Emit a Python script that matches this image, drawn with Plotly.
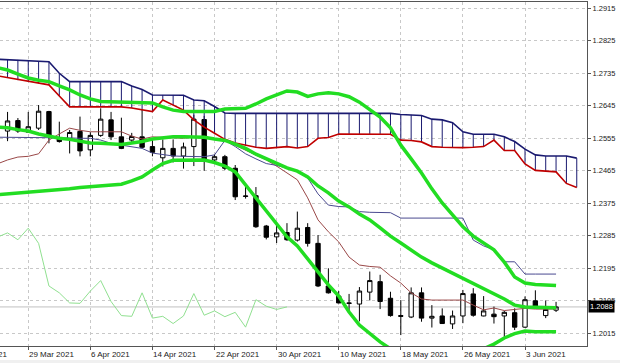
import numpy as np
import pandas as pd
import plotly.graph_objects as go

# ---------------- data ----------------
dates = pd.bdate_range("2021-03-25", "2021-06-08")

open_ = [1.2575, 1.2604, 1.2572, 1.2583, 1.2629, 1.2557, 1.2553, 1.2574, 1.2523, 1.2563,
         1.2606, 1.2559, 1.2550, 1.2559, 1.2532, 1.2501, 1.2527, 1.2506, 1.2532, 1.2607,
         1.2495, 1.2504, 1.2472, 1.2394, 1.2396, 1.2312, 1.2282, 1.2294, 1.2273, 1.2308,
         1.2264, 1.2146, 1.2118, 1.2099, 1.2096, 1.2129, 1.2158, 1.2112, 1.2064, 1.2060,
         1.2127, 1.2057, 1.2063, 1.2041, 1.2063, 1.2124, 1.2063, 1.2068, 1.2063, 1.2072,
         1.2032, 1.2105, 1.2064, 1.2079]
high = [1.2628, 1.2611, 1.2628, 1.2647, 1.2631, 1.2601, 1.2578, 1.2615, 1.2572, 1.2638,
        1.2628, 1.2612, 1.2570, 1.2634, 1.2550, 1.2552, 1.2552, 1.2543, 1.2620, 1.2617,
        1.2510, 1.2509, 1.2481, 1.2420, 1.2420, 1.2315, 1.2321, 1.2320, 1.2352, 1.2320,
        1.2287, 1.2195, 1.2132, 1.2124, 1.2143, 1.2186, 1.2177, 1.2130, 1.2107, 1.2142,
        1.2142, 1.2093, 1.2084, 1.2078, 1.2135, 1.2140, 1.2118, 1.2089, 1.2077, 1.2084,
        1.2117, 1.2134, 1.2106, 1.2102]
low = [1.2547, 1.2570, 1.2571, 1.2578, 1.2541, 1.2543, 1.2513, 1.2505, 1.2505, 1.2559,
       1.2550, 1.2525, 1.2542, 1.2527, 1.2505, 1.2477, 1.2488, 1.2471, 1.2478, 1.2465,
       1.2488, 1.2467, 1.2384, 1.2388, 1.2307, 1.2275, 1.2265, 1.2271, 1.2269, 1.2255,
       1.2143, 1.2125, 1.2098, 1.2071, 1.2048, 1.2106, 1.2082, 1.2061, 1.2010, 1.2057,
       1.2047, 1.2031, 1.2041, 1.2027, 1.2043, 1.2061, 1.2062, 1.2042, 1.2005, 1.2024,
       1.2030, 1.2084, 1.2057, 1.2074]
close = [1.2603, 1.2575, 1.2587, 1.2630, 1.2564, 1.2546, 1.2571, 1.2520, 1.2563, 1.2608,
         1.2559, 1.2527, 1.2560, 1.2530, 1.2516, 1.2527, 1.2506, 1.2531, 1.2608, 1.2492,
         1.2504, 1.2472, 1.2393, 1.2395, 1.2310, 1.2281, 1.2293, 1.2274, 1.2306, 1.2264,
         1.2146, 1.2127, 1.2099, 1.2098, 1.2132, 1.2161, 1.2103, 1.2064, 1.2062, 1.2127,
         1.2057, 1.2062, 1.2042, 1.2063, 1.2125, 1.2065, 1.2077, 1.2061, 1.2073, 1.2032,
         1.2108, 1.2090, 1.2081, 1.2088]

# indicator values, first value belongs to the bar before 25 Mar (off-screen)
bb_upper = [1.2751, 1.2744, 1.2733, 1.2722, 1.2716, 1.2712, 1.2700, 1.2689, 1.2675, 1.2664,
            1.2657, 1.2656, 1.2656, 1.2656, 1.2655, 1.2653, 1.2642, 1.2633, 1.2629, 1.2629,
            1.2629, 1.2629, 1.2636, 1.2638, 1.2638, 1.2650, 1.2664, 1.2675, 1.2686, 1.2683,
            1.2671, 1.2678, 1.2681, 1.2678, 1.2670, 1.2655, 1.2633, 1.2614, 1.2584, 1.2536,
            1.2498, 1.2459, 1.2415, 1.2376, 1.2343, 1.2310, 1.2284, 1.2265, 1.2246, 1.2212,
            1.2171, 1.2154, 1.2150, 1.2149, 1.2147]
bb_middle = [1.2586, 1.2584, 1.2579, 1.2575, 1.2567, 1.2560, 1.2555, 1.2552, 1.2546, 1.2542,
             1.2541, 1.2539, 1.2538, 1.2542, 1.2546, 1.2553, 1.2557, 1.2559, 1.2559, 1.2559,
             1.2558, 1.2553, 1.2549, 1.2539, 1.2527, 1.2511, 1.2498, 1.2484, 1.2473, 1.2464,
             1.2448, 1.2423, 1.2404, 1.2381, 1.2365, 1.2345, 1.2329, 1.2307, 1.2284, 1.2265,
             1.2246, 1.2226, 1.2210, 1.2196, 1.2182, 1.2168, 1.2152, 1.2138, 1.2124, 1.2110,
             1.2093, 1.2088, 1.2087, 1.2087, 1.2086]
bb_lower = [1.2399, 1.2401, 1.2404, 1.2406, 1.2409, 1.2410, 1.2412, 1.2415, 1.2419, 1.2421,
            1.2423, 1.2426, 1.2428, 1.2437, 1.2448, 1.2467, 1.2485, 1.2494, 1.2495, 1.2495,
            1.2495, 1.2488, 1.2478, 1.2462, 1.2426, 1.2390, 1.2351, 1.2315, 1.2282, 1.2257,
            1.2221, 1.2188, 1.2149, 1.2118, 1.2074, 1.2038, 1.2013, 1.1991, 1.1972, 1.1955,
            1.1944, 1.1938, 1.1936, 1.1938, 1.1947, 1.1955, 1.1963, 1.1972, 1.1985, 1.2002,
            1.2014, 1.2021, 1.2019, 1.2019, 1.2019]
tenkan = [1.2484, 1.2495, 1.2503, 1.2505, 1.2512, 1.2550, 1.2567, 1.2583, 1.2577, 1.2573,
          1.2573, 1.2573, 1.2573, 1.2561, 1.2553, 1.2559, 1.2557, 1.2556, 1.2555, 1.2559,
          1.2557, 1.2553, 1.2549, 1.2536, 1.2523, 1.2509, 1.2495, 1.2478, 1.2459, 1.2440,
          1.2390, 1.2329, 1.2296, 1.2268, 1.2226, 1.2204, 1.2200, 1.2198, 1.2174, 1.2154,
          1.2127, 1.2110, 1.2107, 1.2107, 1.2107, 1.2107, 1.2093, 1.2080, 1.2085, 1.2078,
          1.2081, 1.2084, 1.2082, 1.2082, 1.2082]
kijun = [1.2558, 1.2558, 1.2558, 1.2558, 1.2558, 1.2558, 1.2557, 1.2556, 1.2555, 1.2555,
         1.2550, 1.2541, 1.2536, 1.2532, 1.2527, 1.2514, 1.2509, 1.2506, 1.2505, 1.2504,
         1.2504, 1.2509, 1.2549, 1.2532, 1.2512, 1.2498, 1.2485, 1.2480, 1.2473, 1.2464,
         1.2445, 1.2401, 1.2370, 1.2366, 1.2365, 1.2352, 1.2350, 1.2350, 1.2349, 1.2334,
         1.2334, 1.2334, 1.2334, 1.2334, 1.2334, 1.2334, 1.2273, 1.2257, 1.2246, 1.2213,
         1.2213, 1.2179, 1.2179, 1.2179, 1.2179]
# cloud runs two bars further than the candles
span_upper = [1.2774, 1.2773, 1.2772, 1.2770, 1.2769, 1.2767, 1.2735, 1.2712, 1.2712, 1.2712,
              1.2712, 1.2712, 1.2712, 1.2700, 1.2690, 1.2675, 1.2675, 1.2675, 1.2674, 1.2661,
              1.2659, 1.2643, 1.2625, 1.2624, 1.2624, 1.2624, 1.2624, 1.2624, 1.2624, 1.2624,
              1.2624, 1.2624, 1.2624, 1.2624, 1.2624, 1.2624, 1.2624, 1.2624, 1.2624, 1.2621,
              1.2620, 1.2618, 1.2608, 1.2606, 1.2598, 1.2573, 1.2566, 1.2566, 1.2566, 1.2559,
              1.2546, 1.2525, 1.2509, 1.2506, 1.2506, 1.2506, 1.2500]
span_lower = [1.2728, 1.2723, 1.2716, 1.2711, 1.2707, 1.2703, 1.2672, 1.2642, 1.2642, 1.2642,
              1.2642, 1.2642, 1.2642, 1.2639, 1.2633, 1.2629, 1.2661, 1.2647, 1.2633, 1.2606,
              1.2586, 1.2569, 1.2552, 1.2542, 1.2535, 1.2530, 1.2527, 1.2530, 1.2532, 1.2528,
              1.2532, 1.2555, 1.2557, 1.2567, 1.2567, 1.2567, 1.2567, 1.2567, 1.2566, 1.2550,
              1.2549, 1.2545, 1.2532, 1.2530, 1.2529, 1.2529, 1.2530, 1.2532, 1.2550, 1.2521,
              1.2521, 1.2484, 1.2466, 1.2463, 1.2462, 1.2430, 1.2419]

chikou_shift = 26
date_labels = ["29 Mar 2021", "6 Apr 2021", "14 Apr 2021", "22 Apr 2021", "30 Apr 2021",
               "10 May 2021", "18 May 2021", "26 May 2021", "3 Jun 2021"]
price_ticks = [1.2015, 1.2105, 1.2195, 1.2285, 1.2375, 1.2465, 1.2555, 1.2645, 1.2735,
               1.2825, 1.2915]
last_price = 1.2088

# ---------------- positions ----------------
bar_x = np.arange(len(close))
ind_x = np.arange(-1, len(bb_upper) - 1)
cloud_x = np.arange(-1, len(span_upper) - 1)
chikou_x = bar_x - chikou_shift
label_dates = [d.strftime("%-d %b %Y") for d in dates]
tick_idx = [label_dates.index(t) for t in date_labels]

fig = go.Figure()

# cloud hatch
hx, hy = [], []
for xv, a, b in zip(cloud_x, span_upper, span_lower):
    hx += [xv, xv, None]
    hy += [a, b, None]
fig.add_trace(go.Scatter(x=hx, y=hy, mode="lines", line=dict(color="#1a1a70", width=1),
                         hoverinfo="skip", showlegend=False))

fig.add_trace(go.Candlestick(
    x=bar_x, open=open_, high=high, low=low, close=close,
    increasing=dict(fillcolor="white", line=dict(color="black", width=1)),
    decreasing=dict(fillcolor="black", line=dict(color="black", width=1)),
    whiskerwidth=0, showlegend=False))

fig.add_trace(go.Scatter(x=cloud_x, y=span_lower, mode="lines",
                         line=dict(color="#c00000", width=1.6), showlegend=False))
fig.add_trace(go.Scatter(x=cloud_x, y=span_upper, mode="lines",
                         line=dict(color="#1a1a70", width=1.6), showlegend=False))
fig.add_trace(go.Scatter(x=ind_x, y=tenkan, mode="lines",
                         line=dict(color="#9a4848", width=1), showlegend=False))
fig.add_trace(go.Scatter(x=ind_x, y=kijun, mode="lines",
                         line=dict(color="#4a4a90", width=1), showlegend=False))
fig.add_trace(go.Scatter(x=chikou_x, y=close, mode="lines",
                         line=dict(color="#90e090", width=1), showlegend=False))
for band in (bb_upper, bb_middle, bb_lower):
    fig.add_trace(go.Scatter(x=ind_x, y=band, mode="lines",
                             line=dict(color="#22dd22", width=3.5), showlegend=False))

# bid line
fig.add_shape(type="line", xref="paper", x0=0, x1=1, yref="y", y0=last_price, y1=last_price,
              line=dict(color="#c0c0c0", width=1), layer="below")
# bottom strip
fig.add_shape(type="rect", xref="paper", x0=-0.01, x1=1.1, yref="paper", y0=-0.041, y1=-0.06,
              fillcolor="#f0f0f0", line=dict(width=0), layer="below")

# date labels (left-aligned at tick)
for i, t in zip(tick_idx, date_labels):
    fig.add_annotation(x=i, xref="x", y=0, yref="paper", yanchor="top", yshift=-2,
                       xanchor="left", xshift=-1, text=t, showarrow=False,
                       font=dict(family="Liberation Sans", size=8, color="#222"))
fig.add_annotation(x=0, xref="paper", y=0, yref="paper", yanchor="top", yshift=-2,
                   xanchor="right", xshift=9, text="22 Mar 2021", showarrow=False,
                   font=dict(family="Liberation Sans", size=8, color="#222"))
# current price tag
fig.add_annotation(x=1, xref="paper", y=last_price, yref="y", xanchor="left", xshift=1,
                   text=f"{last_price:.4f}", showarrow=False, bgcolor="black",
                   font=dict(family="Liberation Sans", size=7.5, color="white"), borderpad=1)

fig.update_layout(
    width=620, height=363,
    margin=dict(l=0, r=33, t=2, b=17),
    paper_bgcolor="white", plot_bgcolor="white",
    boxgap=0.4,
    showlegend=False,
    xaxis=dict(range=[-0.73, 55.99], tickvals=tick_idx, showticklabels=False,
               ticks="outside", ticklen=3, tickcolor="#555",
               showgrid=True, gridcolor="#c8c8c8", griddash="dot", gridwidth=1,
               zeroline=False, showline=True, linecolor="#555", mirror=True,
               rangeslider=dict(visible=False)),
    yaxis=dict(range=[1.19798, 1.29324], side="right", tickvals=price_ticks,
               ticktext=[f"{p:.4f}" for p in price_ticks],
               ticks="outside", ticklen=3, tickcolor="#555",
               tickfont=dict(family="Liberation Sans", size=7.5, color="#222"),
               showgrid=True, gridcolor="#c8c8c8", griddash="dot", gridwidth=1,
               zeroline=False, showline=True, linecolor="#555"),
)

fig.write_html("out.html", config={"displayModeBar": False},
               post_script="document.body.style.margin='0';document.body.style.overflow='hidden';")
